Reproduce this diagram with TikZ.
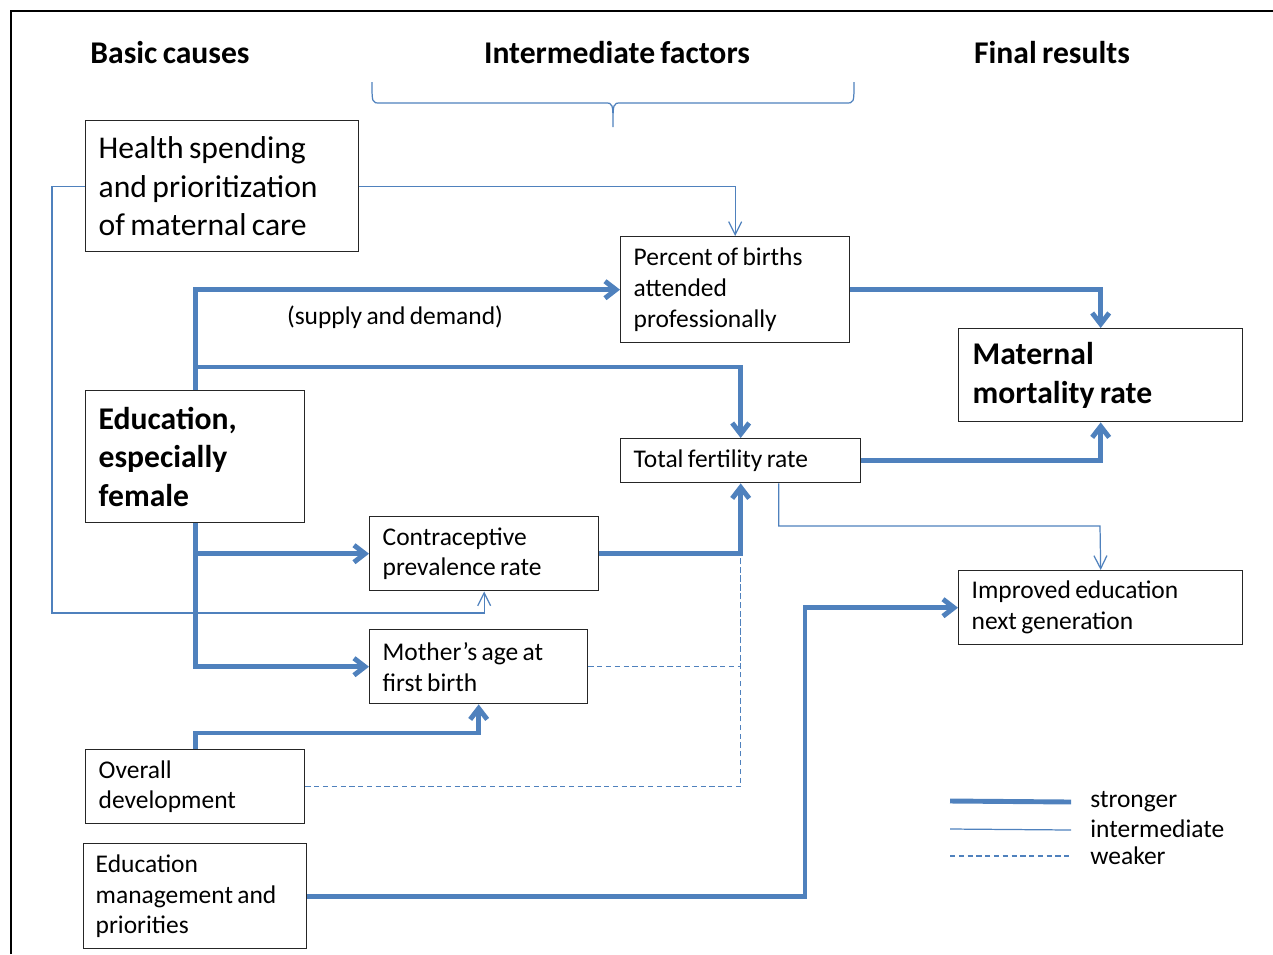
\documentclass[tikz,border=0pt]{standalone}
\usepackage{fontspec}
\setmainfont{Carlito}[WordSpace=0.75]
\usetikzlibrary{arrows.meta}
\definecolor{linkblue}{RGB}{79,129,189}

\begin{document}
\begin{tikzpicture}[x=0.02cm, y=-0.02cm,
  box/.style={draw=black!85, line width=0.8pt, anchor=north west, align=flush left, inner xsep=0.26cm, inner ysep=0pt},
  txtbig/.style={font=\fontsize{18}{22}\selectfont},
  txtbold/.style={font=\fontsize{18}{22}\selectfont\bfseries},
  txtsmall/.style={font=\fontsize{14.5}{17.6}\selectfont},
  sline/.style={draw=linkblue, line width=2.8pt},
  mline/.style={draw=linkblue, line width=0.7pt},
  wline/.style={draw=linkblue, line width=0.7pt, dash pattern=on 3pt off 2pt},
  sarrow/.style={sline, -{Straight Barb[length=2.2mm,width=3.4mm]}},
  marrow/.style={mline, -{Straight Barb[length=2.6mm,width=2.6mm]}}]
\useasboundingbox (0,0) rectangle (1273,954);
% frame
\draw[line width=1.2pt] (11,954) -- (11,11) -- (1273,11);
% column heads
\node[txtbold] (hbasic) at (170,53) {Basic causes};
\node[txtbold] (hinter) at (617,53) {Intermediate factors};
\node[txtbold] (hfinal) at (1052,53) {Final results};
\draw[mline] (372,82) .. controls (372,103) .. (380,103) -- (605,103)
  .. controls (613,103) .. (613,127) .. controls (613,103) .. (621,103)
  -- (846,103) .. controls (854,103) .. (854,82);
% basic causes
\node[box, txtbig, text width=4.94cm, minimum height=2.62cm] (health) at (85,120) {Health spending\\and prioritization\\of maternal care};
\node[box, txtbold, text width=3.86cm, minimum height=2.64cm] (edu) at (85,390) {Education,\\especially\\female};
\node[box, txtsmall, text width=3.86cm, minimum height=1.48cm] (ovd) at (85,749) {Overall\\development};
\node[box, txtsmall, text width=3.98cm, minimum height=2.1cm, inner xsep=0.24cm] (emp) at (83,843) {Education\\management and\\priorities};
% intermediate factors
\node[box, txtsmall, text width=4.06cm, minimum height=2.12cm] (pct) at (620,236) {Percent of births\\attended\\professionally};
\node[box, txtsmall, text width=4.28cm, minimum height=0.88cm] (tfr) at (620,438) {Total fertility rate};
\node[box, txtsmall, text width=4.06cm, minimum height=1.48cm] (cpr) at (369,516) {Contraceptive\\prevalence rate};
\node[box, txtsmall, text width=3.84cm, minimum height=1.48cm] (mab) at (369,629) {Mother’s age at\\first birth};
% final results
\node[box, txtbold, text width=5.12cm, minimum height=1.86cm, inner xsep=0.28cm] (mmr) at (958,328) {Maternal\\mortality rate};
\node[box, txtsmall, text width=5.16cm, minimum height=1.48cm] (ied) at (958,570) {Improved education\\next generation};
\node[txtsmall] (sd) at (395,317) {(supply and demand)};
% strong links
\coordinate (split) at (edu.north |- 0,367);
\coordinate (bend) at (805,0);
\draw[sarrow] (edu.north) |- (pct.west);
\draw[sarrow] (split) -| (tfr.north);
\draw[sarrow] (edu.south) |- (cpr.west);
\draw[sarrow] (edu.south) |- (mab.west);
\draw[sarrow] (cpr.east) -| (tfr.south);
\draw[sarrow] (ovd.north) |- ++(0,-16) -| (mab.south);
\draw[sarrow] (pct.east) -| (mmr.north);
\draw[sarrow] (tfr.east) -| (mmr.south);
\draw[sarrow] (emp.east) -| (bend |- ied.west) -- (ied.west);
% intermediate links
\draw[marrow] (health.east) -| (pct.north);
\draw[marrow] (health.west) -| (52,613) -| (cpr.south);
\draw[marrow] ([xshift=0.76cm]tfr.south) |- (1100,526) -- (ied.north);
% weak links
\coordinate (join) at (tfr.south |- 0,556);
\draw[wline] (mab.east) -| (join);
\draw[wline] (ovd.east) -| (join);
% legend
\node[txtsmall, anchor=west, inner sep=0pt] (lstrong) at (1090,802) {stronger};
\node[txtsmall, anchor=west, inner sep=0pt] (lmid) at (1090,829) {intermediate};
\node[txtsmall, anchor=west, inner sep=0pt] (lweak) at (1090,856) {weaker};
\draw[sline] (950,801) -- (1071,802);
\draw[mline] (950,829) -- (1071,830);
\draw[wline] (950,856) -- (1071,856);
\end{tikzpicture}
\end{document}
